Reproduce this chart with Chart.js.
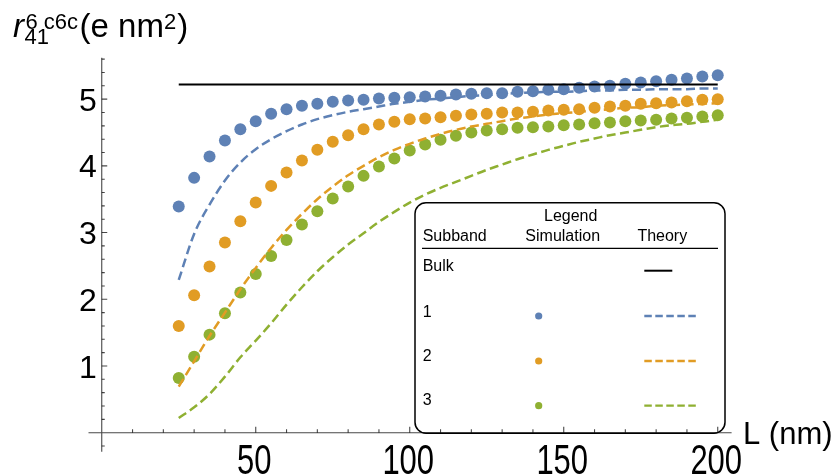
<!DOCTYPE html>
<html>
<head>
<meta charset="utf-8">
<script src="https://cdn.jsdelivr.net/npm/chart.js@4.4.1/dist/chart.umd.min.js"></script>
<style>
html,body{margin:0;padding:0;background:#fff;}
#wrap{width:840px;height:475px;position:relative;}
</style>
</head>
<body>
<div id="wrap"><canvas id="c" width="840" height="475"></canvas></div>
<script>
// ---- data ----
const lengthsNm = [25,30,35,40,45,50,55,60,65,70,75,80,85,90,95,100,105,110,115,120,125,130,135,140,145,150,155,160,165,170,175,180,185,190,195,200];
const bulkLengths = [25, 200];
const bulkTheory = [5.22, 5.22];

const sim1 = [3.39,3.82,4.14,4.38,4.55,4.67,4.78,4.85,4.90,4.93,4.96,4.98,4.99,5.01,5.02,5.03,5.04,5.05,5.07,5.08,5.09,5.09,5.11,5.12,5.14,5.15,5.17,5.19,5.20,5.23,5.25,5.27,5.29,5.31,5.34,5.36];
const sim2 = [1.60,2.06,2.49,2.85,3.17,3.45,3.70,3.90,4.08,4.24,4.36,4.46,4.55,4.62,4.66,4.70,4.71,4.73,4.75,4.77,4.78,4.80,4.80,4.81,4.83,4.84,4.85,4.87,4.89,4.90,4.93,4.94,4.95,4.97,4.99,5.00];
const sim3 = [0.82,1.14,1.47,1.79,2.10,2.38,2.65,2.89,3.12,3.32,3.51,3.69,3.85,3.99,4.11,4.23,4.32,4.39,4.45,4.50,4.53,4.55,4.57,4.58,4.59,4.61,4.62,4.64,4.65,4.67,4.68,4.69,4.71,4.72,4.74,4.76];

const theory1 = [2.29,2.98,3.42,3.78,4.05,4.25,4.40,4.52,4.62,4.70,4.76,4.81,4.85,4.89,4.93,4.96,4.99,5.01,5.03,5.05,5.06,5.08,5.09,5.10,5.11,5.11,5.12,5.13,5.13,5.14,5.14,5.15,5.15,5.15,5.16,5.16];
const theory2 = [0.69,1.07,1.45,1.80,2.15,2.47,2.77,3.04,3.28,3.50,3.69,3.86,4.00,4.13,4.24,4.33,4.41,4.48,4.54,4.59,4.63,4.67,4.71,4.74,4.77,4.79,4.81,4.83,4.85,4.87,4.88,4.90,4.91,4.92,4.93,4.94];
const theory3 = [0.22,0.38,0.58,0.84,1.13,1.38,1.64,1.92,2.18,2.42,2.63,2.82,2.99,3.16,3.31,3.45,3.57,3.67,3.76,3.85,3.94,4.02,4.10,4.17,4.24,4.30,4.36,4.41,4.46,4.50,4.54,4.58,4.61,4.63,4.66,4.69];

const xTickLabels = [50, 100, 150, 200];
const yTickLabels = [1, 2, 3, 4, 5];
const subbandNames = ['Bulk', '1', '2', '3'];

// ---- styling ----
const BLUE = '#5E81B5', ORANGE = '#E19C24', GREEN = '#8FB032';
const FONT = "'Liberation Sans', Arial, Helvetica, sans-serif";

function pts(xs, ys) { return xs.map((x, i) => ({ x: x, y: ys[i] })); }

function roundRect(ctx, x, y, w, h, r) {
  ctx.beginPath();
  ctx.moveTo(x + r, y);
  ctx.arcTo(x + w, y, x + w, y + h, r);
  ctx.arcTo(x + w, y + h, x, y + h, r);
  ctx.arcTo(x, y + h, x, y, r);
  ctx.arcTo(x, y, x + w, y, r);
  ctx.closePath();
}

function drawLegend(ctx) {
  ctx.save();
  roundRect(ctx, 415, 202.7, 310, 230.5, 11);
  ctx.fillStyle = '#fff';
  ctx.fill();
  ctx.strokeStyle = '#000';
  ctx.lineWidth = 1.5;
  ctx.stroke();

  ctx.fillStyle = '#000';
  ctx.font = '16px ' + FONT;
  ctx.textBaseline = 'middle';
  ctx.textAlign = 'center';
  ctx.fillText('Legend', 570.7, 217);
  ctx.fillText('Simulation', 562.7, 237);
  ctx.fillText('Theory', 662.3, 237);
  ctx.textAlign = 'left';
  ctx.fillText('Subband', 422.7, 237);

  ctx.beginPath();
  ctx.moveTo(422, 248.3); ctx.lineTo(718, 248.3);
  ctx.lineWidth = 1.3; ctx.stroke();

  const rowsY = [266.5, 312.5, 357, 401];
  const markY = [270.7, 316, 361, 405.7];
  const cols = ['#000', BLUE, ORANGE, GREEN];
  subbandNames.forEach((name, i) => {
    ctx.fillStyle = '#000';
    ctx.textAlign = 'left';
    ctx.fillText(name, 422.7, rowsY[i]);
    ctx.strokeStyle = cols[i];
    if (i === 0) {
      ctx.setLineDash([]);
      ctx.lineWidth = 2;
      ctx.beginPath(); ctx.moveTo(644.3, markY[i]); ctx.lineTo(672.3, markY[i]); ctx.stroke();
    } else {
      ctx.setLineDash([7.5, 3.5]);
      ctx.lineWidth = 2.3;
      ctx.beginPath(); ctx.moveTo(644.3, markY[i]); ctx.lineTo(696, markY[i]); ctx.stroke();
      ctx.setLineDash([]);
      ctx.fillStyle = cols[i];
      ctx.beginPath(); ctx.arc(538.7, markY[i], 3.6, 0, Math.PI * 2); ctx.fill();
    }
  });
  ctx.restore();
}

const mmaPlugin = {
  id: 'mmaAxes',
  afterDatasetsDraw(chart) {
    const ctx = chart.ctx, xs = chart.scales.x, ys = chart.scales.y, a = chart.chartArea;
    drawLegend(ctx);

    const x0 = xs.getPixelForValue(0), y0 = ys.getPixelForValue(0);
    ctx.save();
    ctx.strokeStyle = 'rgba(0,0,0,0.72)';
    ctx.lineWidth = 1.1;
    ctx.beginPath();
    ctx.moveTo(a.left, y0); ctx.lineTo(a.right, y0);
    ctx.moveTo(x0, a.top); ctx.lineTo(x0, a.bottom);
    ctx.stroke();

    // x ticks (inward / upward)
    ctx.beginPath();
    for (let v = 10; v <= 200; v += 10) {
      const px = xs.getPixelForValue(v);
      const len = xTickLabels.includes(v) ? 6 : 3.5;
      ctx.moveTo(px, y0); ctx.lineTo(px, y0 - len);
    }
    // y ticks (inward / right)
    for (let k = -1; k <= 28; k++) {
      if (k === 0) continue;
      const v = k * 0.2;
      const py = ys.getPixelForValue(v);
      const major = (k % 5 === 0);
      const len = major ? 5.5 : 3;
      ctx.moveTo(x0, py); ctx.lineTo(x0 + len, py);
    }
    ctx.stroke();

    // tick labels
    ctx.fillStyle = '#000';
    ctx.font = '32px ' + FONT;
    ctx.textAlign = 'right';
    ctx.textBaseline = 'alphabetic';
    yTickLabels.forEach(v => {
      const py = ys.getPixelForValue(v);
      ctx.fillText(String(v), x0 - 5, py + 11.6);
    });
    ctx.font = '31px ' + FONT;
    ctx.textAlign = 'center';
    xTickLabels.forEach(v => {
      const px = xs.getPixelForValue(v);
      ctx.save();
      ctx.translate(px - 1.5, 473.5);
      ctx.scale(1, 1.4);
      ctx.fillText(String(v), 0, 0);
      ctx.restore();
    });

    // axis label x
    ctx.textAlign = 'left';
    ctx.font = '31px ' + FONT;
    ctx.fillText('L (nm)', 743, 443.5);

    // axis label y: r^{6 c6c}_{41}(e nm^2)
    let x = 13;
    ctx.font = 'italic 33px ' + FONT;
    ctx.fillText('r', x, 37);
    x += ctx.measureText('r').width + 1.5;
    ctx.font = '22px ' + FONT;
    ctx.fillText('6 c6c', x, 28.5);
    const supW = ctx.measureText('6 c6c').width;
    ctx.fillText('41', x - 1, 43.5);
    x += supW + 1.5;
    ctx.font = '33px ' + FONT;
    ctx.fillText('(e nm', x, 37);
    x += ctx.measureText('(e nm').width;
    ctx.font = '22px ' + FONT;
    ctx.fillText('2', x, 28.5);
    x += ctx.measureText('2').width + 1;
    ctx.font = '33px ' + FONT;
    ctx.fillText(')', x, 37);
    ctx.restore();
  }
};

function theoryLine(label, ys, color) {
  return {
    label: label, data: pts(lengthsNm, ys), showLine: true,
    borderColor: color, borderWidth: 2.5, borderDash: [9, 4.5],
    pointRadius: 0, pointHoverRadius: 0, cubicInterpolationMode: 'monotone', order: 0
  };
}
function simDots(label, ys, color) {
  return {
    label: label, data: pts(lengthsNm, ys), showLine: false,
    pointBackgroundColor: color, backgroundColor: color, pointBorderWidth: 0,
    pointRadius: 6, pointHoverRadius: 6, order: 1
  };
}

new Chart(document.getElementById('c'), {
  type: 'scatter',
  data: {
    datasets: [
      { label: 'Bulk theory', data: pts(bulkLengths, bulkTheory), showLine: true,
        borderColor: '#000', borderWidth: 2, pointRadius: 0, pointHoverRadius: 0, order: 0 },
      theoryLine('Subband 1 theory', theory1, BLUE),
      theoryLine('Subband 2 theory', theory2, ORANGE),
      theoryLine('Subband 3 theory', theory3, GREEN),
      simDots('Subband 1 simulation', sim1, BLUE),
      simDots('Subband 2 simulation', sim2, ORANGE),
      simDots('Subband 3 simulation', sim3, GREEN)
    ]
  },
  options: {
    responsive: false,
    animation: false,
    devicePixelRatio: 1,
    layout: { padding: { left: 88.5, right: 108.4, top: 57.8, bottom: 23.3 } },
    scales: {
      x: { type: 'linear', min: -4.3, max: 204.5, display: false },
      y: { type: 'linear', min: -0.285, max: 5.62, display: false }
    },
    plugins: { legend: { display: false }, tooltip: { enabled: false } }
  },
  plugins: [mmaPlugin]
});
</script>
</body>
</html>
